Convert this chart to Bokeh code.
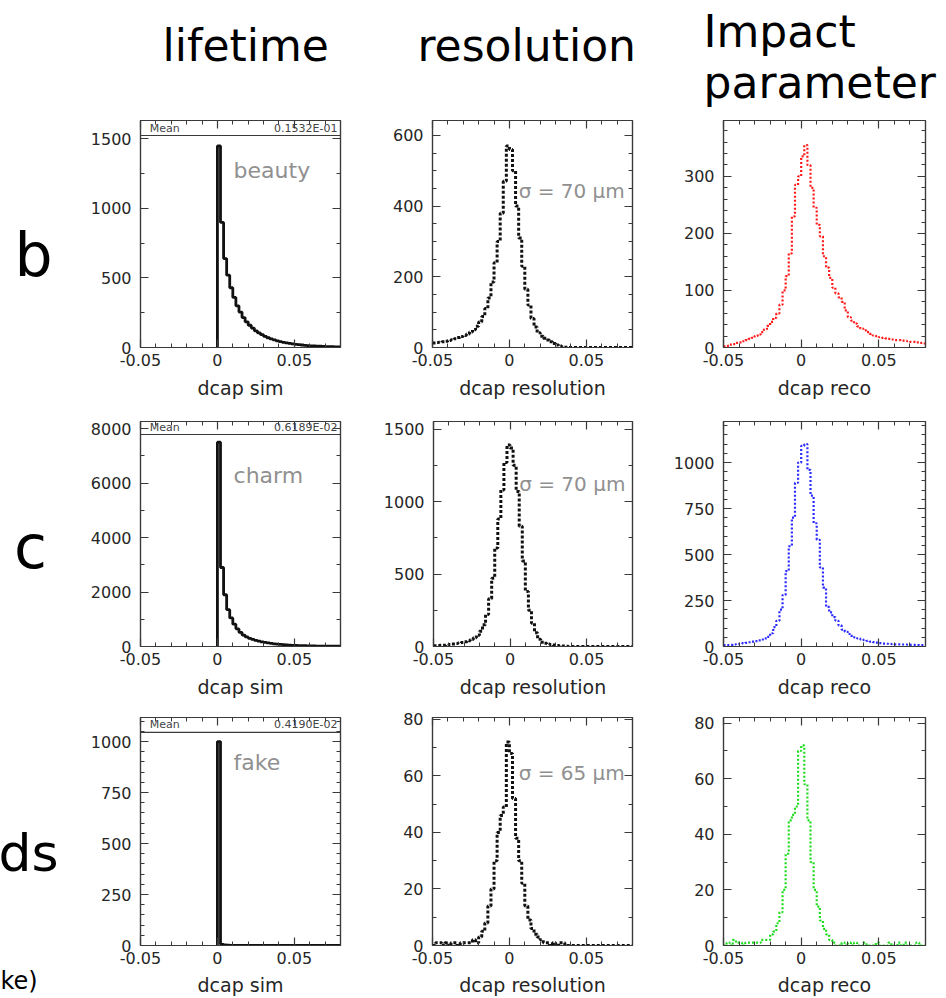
import numpy as np
from bokeh.plotting import figure
from bokeh.models import Range1d, LinearAxis, FixedTicker
from bokeh.layouts import row, column
from bokeh.core.properties import value
from bokeh.embed import file_html
from bokeh.resources import INLINE

FONT = "DejaVu Sans"

# ---------------- data ----------------
# lifetime (dcap sim): bins of width 0.002 starting at 0
life_lo = 0.0
life_w = 0.002
beauty_sim = [1450, 900, 640, 520, 430, 360, 300, 255, 215, 185,
              160, 140, 120, 105, 92, 80, 70, 62, 55, 48,
              42, 37, 33, 29, 26, 23, 20, 18, 16, 14,
              12, 11, 10, 9, 8, 7, 6, 6, 5, 5]
charm_sim = [7500, 2900, 1900, 1350, 1050, 820, 650, 520, 420, 350,
             300, 260, 225, 195, 170, 150, 130, 115, 100, 88,
             77, 67, 58, 50, 44, 38, 34, 30, 27, 24,
             21, 19, 17, 15, 14, 13, 12, 11, 10, 10]
fake_sim = [1000, 6, 3, 2, 1, 1, 1, 0, 1, 0,
            0, 0, 0, 0, 0, 0, 0, 0, 0, 0,
            0, 0, 0, 0, 0, 0, 0, 0, 0, 0,
            0, 0, 0, 0, 0, 0, 0, 0, 0, 0]

# resolution / reco: bins of width 0.002 from -0.05 to 0.08
hist_lo = -0.05
hist_w = 0.002
beauty_res = [13, 14, 15, 16, 18, 20, 22, 25, 28, 31,
              34, 38, 44, 50, 60, 72, 88, 110, 140, 185,
              240, 300, 380, 470, 570, 560, 500, 400, 310, 230,
              165, 120, 82, 58, 42, 32, 26, 21, 16, 11,
              7, 4, 2, 1, 0, 0, 0, 0, 0, 0,
              0, 0, 0, 0, 0, 0, 0, 0, 0, 0,
              0, 0, 0, 0, 0]
charm_res = [6, 7, 8, 9, 11, 14, 17, 20, 24, 28,
             33, 40, 48, 60, 78, 105, 150, 220, 330, 470,
             680, 880, 1080, 1270, 1390, 1370, 1250, 1070, 830, 590,
             380, 250, 160, 95, 50, 30, 22, 17, 13, 10,
             7, 5, 3, 2, 0, 0, 0, 0, 0, 0,
             0, 0, 0, 0, 0, 0, 0, 0, 0, 0,
             0, 0, 0, 0, 0]
fake_res = [0, 1, 1, 0, 1, 0, 1, 1, 0, 1,
            1, 1, 1, 2, 1, 3, 5, 8, 14, 20,
            30, 40, 46, 49, 72, 68, 52, 38, 30, 22,
            14, 9, 6, 4, 3, 2, 1, 1, 0, 1,
            0, 1, 1, 0, 0, 0, 0, 0, 0, 0,
            0, 0, 0, 0, 0, 0, 0, 0, 0, 0,
            0, 0, 0, 0, 0]
beauty_reco = [2, 3, 5, 6, 8, 9, 11, 13, 15, 17,
               20, 23, 27, 32, 38, 45, 52, 60, 75, 100,
               125, 165, 230, 285, 300, 335, 355, 320, 280, 245,
               215, 195, 160, 140, 122, 105, 95, 88, 80, 65,
               53, 47, 42, 37, 33, 30, 27, 24, 21, 20,
               18, 17, 16, 15, 14, 13, 13, 12, 12, 11,
               10, 10, 9, 8, 7]
charm_reco = [7, 8, 9, 11, 13, 15, 18, 20, 23, 26,
              29, 33, 38, 44, 52, 72, 105, 140, 200, 280,
              410, 545, 700, 890, 1000, 1090, 1100, 960, 820, 670,
              580, 430, 320, 215, 185, 160, 140, 115, 92, 80,
              68, 58, 50, 44, 39, 35, 31, 27, 24, 21,
              18, 16, 15, 14, 13, 12, 12, 11, 11, 10,
              9, 9, 8, 7, 7]
fake_reco = [0, 1, 0, 2, 1, 1, 0, 1, 1, 1,
             1, 1, 2, 2, 2, 4, 5, 8, 12, 20,
             33, 45, 47, 50, 70, 72, 58, 45, 30, 20,
             14, 9, 6, 4, 2, 1, 0, 0, 1, 0,
             1, 0, 1, 0, 0, 1, 0, 0, 0, 1,
             0, 0, 0, 1, 0, 0, 1, 0, 1, 0,
             0, 0, 1, 0, 0]

column_titles = ["lifetime", "resolution", "Impact", "parameter"]
row_labels = ["b", "c", "ds", "ke)"]
sample_names = ["beauty", "charm", "fake"]
mean_values = ["0.1532E-01", "0.6189E-02", "0.4190E-02"]
sigma_labels = ["σ = 70 μm", "σ = 70 μm", "σ = 65 μm"]
x_titles = ["dcap sim", "dcap resolution", "dcap reco"]
x_ticks = [-0.05, 0.0, 0.05]
x_tick_labels = ["-0.05", "0", "0.05"]
x_minor = [-0.04, -0.03, -0.02, -0.01, 0.01, 0.02, 0.03, 0.04, 0.06, 0.07]

y_ticks = [[[0, 500, 1000, 1500], [0, 200, 400, 600], [0, 100, 200, 300]],
           [[0, 2000, 4000, 6000, 8000], [0, 500, 1000, 1500], [0, 250, 500, 750, 1000]],
           [[0, 250, 500, 750, 1000], [0, 20, 40, 60, 80], [0, 20, 40, 60, 80]]]
y_minor_step = [[250, 50, 20], [1000, 250, 50], [50, 10, 10]]
y_max = [[1633, 642, 398], [8257, 1552, 1223], [1118, 80.7, 82.0]]
stat_box_bottom = [1525, 7780, 1045]

life_data = [beauty_sim, charm_sim, fake_sim]
res_data = [beauty_res, charm_res, fake_res]
reco_data = [beauty_reco, charm_reco, fake_reco]
reco_colors = ["#ff1a1a", "#2a2aff", "#1fdc1f"]

# ---------------- layout geometry ----------------
col_w = [320, 290, 276]
col_bl = [80, 52, 53]
col_br = [40, 38, 21]
row_h = [290, 300, 293]
row_bt = [5, 16, 12]
row_bb = [58, 59, 53]
lab_std = [6, 6, 6]
ttl_std = [8, 8, 7]

TICK_C = "#3a3a3a"
LBL_C = "#262626"
GRAY = "#909090"


def step_xy(lo, w, counts, from_zero=False):
    c = np.asarray(counts, dtype=float)
    e = lo + w * np.arange(len(c) + 1)
    xs = np.repeat(e, 2)[1:-1]
    ys = np.repeat(c, 2)
    if from_zero:
        xs = np.r_[e[0], xs]
        ys = np.r_[0.0, ys]
    return xs, ys


def style_axis(ax, xaxis, labels, r):
    ax.axis_line_color = TICK_C
    ax.axis_line_width = 1.2
    ax.major_tick_in = 8
    ax.major_tick_out = 0
    ax.minor_tick_in = 4
    ax.minor_tick_out = 0
    ax.major_tick_line_color = TICK_C
    ax.minor_tick_line_color = TICK_C
    ax.major_tick_line_width = 1.2
    ax.minor_tick_line_width = 1
    if labels:
        ax.major_label_text_font = FONT
        ax.major_label_text_font_size = "16px"
        ax.major_label_text_color = LBL_C
        ax.major_label_standoff = lab_std[r] if xaxis else 9
    else:
        ax.major_label_text_font_size = "0px"
        ax.major_label_standoff = 0
        ax.major_label_text_alpha = 0


def make_panel(r, c):
    ymax = y_max[r][c]
    p = figure(width=col_w[c], height=row_h[r],
               x_range=Range1d(-0.05, 0.08), y_range=Range1d(0, ymax),
               output_backend="svg", toolbar_location=None,
               min_border_left=col_bl[c], min_border_right=col_br[c],
               min_border_top=row_bt[r], min_border_bottom=row_bb[r])
    p.grid.visible = False
    p.outline_line_color = TICK_C
    p.outline_line_width = 1.2
    p.background_fill_color = "white"
    p.border_fill_color = "white"

    yt = y_ticks[r][c]
    ym = [v for v in np.arange(0, ymax, y_minor_step[r][c]) if v not in yt]
    xticker = FixedTicker(ticks=x_ticks, minor_ticks=x_minor)
    yticker = FixedTicker(ticks=yt, minor_ticks=ym)

    xa = p.xaxis[0]
    xa.ticker = xticker
    xa.major_label_overrides = {t: s for t, s in zip(x_ticks, x_tick_labels)}
    xa.axis_label = x_titles[c]
    xa.axis_label_text_font = FONT
    xa.axis_label_text_font_size = "19px"
    xa.axis_label_text_font_style = "normal"
    xa.axis_label_text_color = LBL_C
    xa.axis_label_standoff = ttl_std[r]
    style_axis(xa, True, True, r)

    ya = p.yaxis[0]
    ya.ticker = yticker
    ya.major_label_overrides = {t: str(t) for t in yt}
    style_axis(ya, False, True, r)

    top = LinearAxis(ticker=xticker)
    style_axis(top, True, False, r)
    p.add_layout(top, "above")
    right = LinearAxis(ticker=yticker)
    style_axis(right, False, False, r)
    p.add_layout(right, "right")

    if c == 0:
        xs, ys = step_xy(life_lo, life_w, life_data[r], from_zero=True)
        p.quad(left=[-0.05], right=[0.08], bottom=[stat_box_bottom[r]], top=[ymax],
               fill_color="white", line_color=TICK_C, line_width=1.2)
        ymid = (stat_box_bottom[r] + ymax) / 2
        p.text(x=[-0.044], y=[ymid], text=["Mean"], text_font=value(FONT),
               text_font_size="11px", text_color="#444444", text_baseline="middle")
        p.text(x=[0.078], y=[ymid], text=[mean_values[r]], text_font=value(FONT),
               text_font_size="11px", text_color="#444444", text_baseline="middle",
               text_align="right")
        p.line(xs, ys, line_color="#111111", line_width=2.8)
        name_y = [1273, 6275, 897][r]
        p.text(x=[0.0105], y=[name_y], text=[sample_names[r]], text_font=value(FONT),
               text_font_size="22px", text_color=GRAY, text_baseline="middle")
    elif c == 1:
        xs, ys = step_xy(hist_lo, hist_w, res_data[r])
        p.line(xs, ys, line_color="#111111", line_width=3, line_dash="3 2")
        sig_y = [444, 1120, 61][r]
        p.text(x=[0.006], y=[sig_y], text=[sigma_labels[r]], text_font=value(FONT),
               text_font_size="20px", text_color=GRAY, text_baseline="middle")
    else:
        xs, ys = step_xy(hist_lo, hist_w, reco_data[r])
        p.line(xs, ys, line_color=reco_colors[r], line_width=2.2, line_dash="2 2")
    return p


panels = [[make_panel(r, c) for c in range(3)] for r in range(3)]

# header with column titles (window pixel coordinates, y downwards)
hdr = figure(width=886, height=115, x_range=Range1d(60, 946), y_range=Range1d(115, 0),
             x_axis_type=None, y_axis_type=None, output_backend="svg",
             toolbar_location=None, min_border=0)
hdr.grid.visible = False
hdr.outline_line_color = None
hdr.text(x=[162, 417, 703, 703], y=[45, 45, 31, 82], text=column_titles,
         text_font=value(FONT), text_font_size="44px", text_color="black",
         text_baseline="middle")

# row labels (window pixel coordinates, y downwards)
lab = figure(width=60, height=998, x_range=Range1d(0, 60), y_range=Range1d(998, 0),
             x_axis_type=None, y_axis_type=None, output_backend="svg",
             toolbar_location=None, min_border=0)
lab.grid.visible = False
lab.outline_line_color = None
lab.text(x=[33, 30], y=[254, 546], text=row_labels[:2],
         text_font=value(FONT), text_font_size="60px", text_color="black",
         text_align="center", text_baseline="middle")
lab.text(x=[-2], y=[852], text=[row_labels[2]], text_font=value(FONT),
         text_font_size="52px", text_color="black", text_align="left",
         text_baseline="middle")
lab.text(x=[0], y=[980], text=[row_labels[3]], text_font=value(FONT),
         text_font_size="24px", text_color="black", text_align="left",
         text_baseline="middle")

grid = column(hdr, *[row(*panels[r], spacing=0) for r in range(3)], spacing=0)
layout = row(lab, grid, spacing=0)

open("out.html", "w").write(file_html(layout, INLINE))
